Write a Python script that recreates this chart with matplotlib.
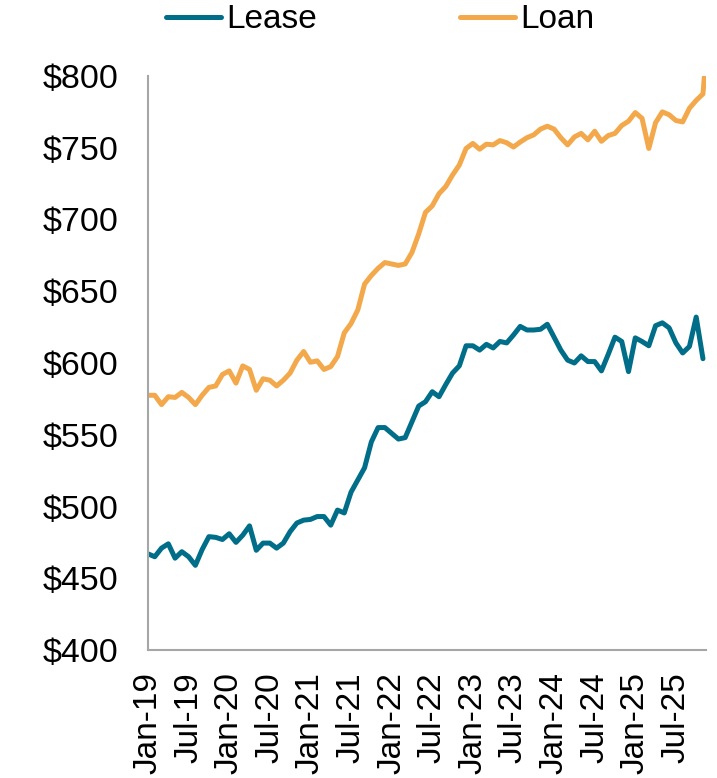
import numpy as np
import matplotlib
matplotlib.use("Agg")
from matplotlib import pyplot as plt

# monthly payments, Jan-19 .. Nov-25 (loan has one more point, cut off at the edge)
lease = [467, 465, 471, 474, 464, 468.5, 465, 459, 470, 479,
         478.5, 477, 481, 475, 480, 486.5, 469.5, 474.5, 474.5, 471,
         474.5, 482.5, 488.5, 490.5, 491, 493, 493, 487, 497.5, 495.5,
         510, 518.5, 527, 545, 555, 555, 551, 547, 548, 559,
         570, 573, 580, 576.5, 585, 593, 598, 612, 612, 609,
         613, 610.5, 615, 614, 619.5, 625.5, 623, 623, 623.5, 627,
         618, 609, 602, 600, 605, 601, 601, 594.5, 606, 618,
         615, 594, 617.5, 615, 612, 626, 628, 624.5, 614, 607,
         611.5, 632, 603]
loan = [577.5, 577.5, 571, 576.5, 576, 579.5, 576, 571, 577.5, 583,
        584, 592, 594.5, 586, 598, 595.5, 581, 589, 588, 584,
        588, 593, 602, 608, 600.5, 601.5, 595.5, 597.5, 604.5, 621,
        627.5, 637, 655, 661, 666, 670, 669, 668, 669, 677,
        690, 705, 709.5, 718, 723, 731, 738, 749.5, 753, 749,
        752.5, 752, 755, 753.5, 750.5, 754, 757, 759, 763, 765,
        763, 757, 752, 757.5, 760, 755.5, 761.5, 754.5, 758.5, 760,
        765.5, 768.5, 774.5, 770.5, 749.5, 767.5, 775, 773, 769, 768,
        777.5, 783, 787.5, 845]
tick_labels = ["Jan-19", "Jul-19", "Jan-20", "Jul-20", "Jan-21", "Jul-21", "Jan-22",
               "Jul-22", "Jan-23", "Jul-23", "Jan-24", "Jul-24", "Jan-25", "Jul-25"]
y_ticks = [400, 450, 500, 550, 600, 650, 700, 750, 800]

TEAL = "#006E89"
ORANGE = "#F3A94B"
GRID = "#A6A6A6"

plt.rcParams['font.family'] = ['Liberation Sans', 'DejaVu Sans']

fig = plt.figure(figsize=(7.17, 7.78), dpi=100)
ax = fig.add_axes([148/717, 1 - 650/778, 558/717, 574/778])

ax.plot(np.arange(len(lease)), lease, color=TEAL, lw=3.6,
        solid_capstyle='round', solid_joinstyle='round', label="Lease")
ax.plot(np.arange(len(loan)), loan, color=ORANGE, lw=3.6,
        solid_capstyle='round', solid_joinstyle='round', label="Loan")

ax.set_xlim(0, 82.45)
ax.set_ylim(400, 800)
ax.set_yticks(y_ticks)
ax.set_yticklabels(["$%d" % v for v in y_ticks], fontsize=24.5)
ax.set_xticks(np.arange(0, 6 * len(tick_labels), 6))
ax.set_xticklabels(tick_labels, rotation=90, fontsize=24)
ax.tick_params(axis='y', length=0, pad=21)
ax.tick_params(axis='x', length=0, pad=16)

for side in ['top', 'right']:
    ax.spines[side].set_visible(False)
for side in ['left', 'bottom']:
    ax.spines[side].set_color(GRID)
    ax.spines[side].set_linewidth(1.5)

fig.legend(loc='center left', bbox_to_anchor=(166/717, 1 - 20/778), ncol=2,
           frameon=False, fontsize=24, handlelength=1.65, handletextpad=0.15,
           columnspacing=4.3, borderpad=0, borderaxespad=0)

fig.savefig("out.png", dpi=100)
